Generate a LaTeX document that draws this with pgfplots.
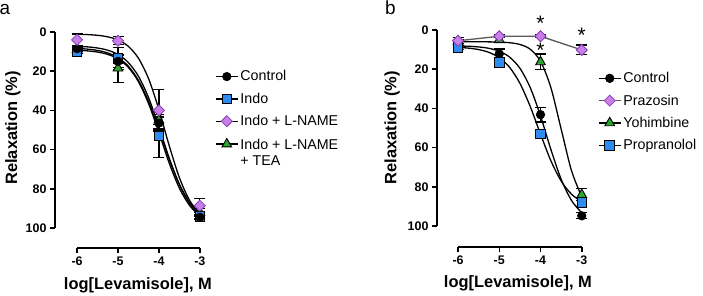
\documentclass[border=0pt]{standalone}
\usepackage{pgfplots}
\pgfplotsset{compat=1.18}
\usepackage{fontspec}
\setmainfont{Liberation Sans}

\definecolor{indoblue}{HTML}{2E8BF0}
\definecolor{lname}{HTML}{C97FEA}
\definecolor{lnameedge}{HTML}{8A3FB0}
\definecolor{teagreen}{HTML}{2BA82B}
\definecolor{prazline}{HTML}{5A5A5A}

\pgfplotsset{
  ctrl/.style={mark=*, mark size=4.3bp, mark options={fill=black, draw=black, solid, line width=0.6bp}},
  indo/.style={mark=square*, mark size=4.8bp, mark options={fill=indoblue, draw=black, solid, line width=0.9bp}},
  lnm/.style={mark=square*, mark size=3.9bp, mark options={rotate=45, fill=lname, draw=lnameedge, solid, line width=0.8bp}},
  tea/.style={mark=triangle*, mark size=5.6bp, mark options={fill=teagreen, draw=black, solid, line width=0.9bp}},
  fit/.style={black, line width=1.3bp, smooth, forget plot, no marks},
  ebars/.style={only marks, forget plot,
    error bars/.cd, y dir=both, y explicit,
    error bar style={line width=1.2bp, black, solid},
    error mark options={rotate=90, line width=1.2bp, black, mark size=5.5bp, solid},
    /pgfplots/.cd},
  resp/.style={
    scale only axis, width=153bp, height=221.9bp,
    xmin=-6.54, xmax=-2.8, ymin=-3, ymax=110.2,
    y dir=reverse, clip=false,
    axis line style={draw=none},
    xtick={-6,-5,-4,-3}, xticklabels={-6,-5,-4,-3},
    ytick={0,20,40,60,80,100}, yticklabels={0,20,40,60,80,100},
    xtick pos=left, ytick pos=left,
    tick align=outside, major tick length=5bp,
    tick style={line width=1.5bp, black},
    ticklabel style={font=\fontsize{12.5}{14}\selectfont\bfseries},
    label style={font=\fontsize{16.5}{18}\selectfont\bfseries},
    xlabel={log[Levamisole], M},
    ylabel={Relaxation (\%)},
    legend cell align=left,
    legend image code/.code={\draw[mark repeat=2,mark phase=2,##1] plot coordinates {(0bp,0bp) (11bp,0bp) (22bp,0bp)};},
    legend style={draw=none, fill=none, anchor=north west, row sep=6.5bp,
      font=\fontsize{14.3}{16.5}\selectfont},
  }
}

\begin{document}
\begin{tikzpicture}
\useasboundingbox (0,0) rectangle (703bp,296bp);

\node[anchor=base west, inner sep=0pt, font=\fontsize{19}{20}\selectfont] at (-0.5bp,281bp) {a};
\node[anchor=base west, inner sep=0pt, font=\fontsize{19}{20}\selectfont] at (385bp,281bp) {b};

% ---------------- panel a ----------------
\begin{axis}[resp, at={(55bp,48bp)}, anchor=south west,
  xlabel style={at={(axis description cs:0.542,-0.167)}, anchor=center},
  ylabel style={at={(axis description cs:-0.275,0.541)}, anchor=center},
  legend style={at={(1.026,0.818)}}]

% fitted concentration-response curves
\addplot[fit] coordinates {(-6,7.30) (-5.75,7.59) (-5.5,8.17) (-5.25,9.30) (-5,11.48) (-4.75,15.52) (-4.5,22.58) (-4.25,33.65) (-4,48.39) (-3.75,64.23) (-3.5,77.83) (-3.25,87.38) (-3,93.21)};
\addplot[fit] coordinates {(-6,9.31) (-5.75,9.63) (-5.5,10.24) (-5.25,11.44) (-5,13.74) (-4.75,17.99) (-4.5,25.34) (-4.25,36.66) (-4,51.37) (-3.75,66.78) (-3.5,79.65) (-3.25,88.51) (-3,93.86)};
\addplot[fit] coordinates {(-6,1.16) (-5.75,1.33) (-5.5,1.70) (-5.25,2.48) (-5,4.07) (-4.75,7.27) (-4.5,13.38) (-4.25,23.97) (-4,39.57) (-3.75,57.86) (-3.5,74.28) (-3.25,85.91) (-3,92.79)};
\addplot[fit] coordinates {(-6,8.38) (-5.75,8.74) (-5.5,9.42) (-5.25,10.71) (-5,13.11) (-4.75,17.42) (-4.5,24.67) (-4.25,35.63) (-4,49.74) (-3.75,64.75) (-3.5,77.70) (-3.25,86.97) (-3,92.78)};

% mean +/- SEM
\addplot[tea, ebars] table[x=x, y=y, y error=e] {
x y e
-6 9.0 1.0
-5 18.5 7.2
-4 45.0 2.0
-3 92.0 2.0
};
\addplot[indo, ebars] table[x=x, y=y, y error=e] {
x y e
-6 10.0 1.0
-5 13.5 5.5
-4 53.0 11.0
-3 94.0 1.0
};
\addplot[ctrl, ebars] table[x=x, y=y, y error=e] {
x y e
-6 8.5 1.0
-5 15.0 3.0
-4 46.5 3.0
-3 94.5 1.0
};
\addplot[lnm, ebars] table[x=x, y=y, y error=e] {
x y e
-6 4.0 3.0
-5 4.5 2.0
-4 40.0 10.5
-3 88.6 3.5
};

\addlegendimage{black, line width=1.3bp, ctrl}
\addlegendentry{Control}
\addlegendimage{black, line width=1.3bp, indo}
\addlegendentry{Indo}
\addlegendimage{black, line width=1.3bp, lnm}
\addlegendentry{Indo + L-NAME}
\addlegendimage{black, line width=1.3bp, tea}
\addlegendentry{\begin{tabular}[t]{@{}l@{}}Indo + L-NAME\\+ TEA\end{tabular}}

\draw[line width=1.5bp] (axis cs:-6.54,0) -- (axis cs:-6.54,100);
\draw[line width=1.5bp] (axis cs:-6,110.2) -- (axis cs:-3,110.2);
\end{axis}

% ---------------- panel b ----------------
\begin{axis}[resp, at={(437bp,49bp)}, anchor=south west,
  xmin=-6.51, ymax=110.7, height=222.9bp,
  xlabel style={at={(axis description cs:0.529,-0.162)}, anchor=center},
  ylabel style={at={(axis description cs:-0.294,0.536)}, anchor=center},
  legend style={at={(1.032,0.802)}}]

\addplot[fit] coordinates {(-6,8.15) (-5.75,8.31) (-5.5,8.65) (-5.25,9.37) (-5,10.85) (-4.75,13.82) (-4.5,19.50) (-4.25,29.35) (-4,43.84) (-3.75,60.84) (-3.5,76.10) (-3.25,86.90) (-3,93.30)};
\addplot[fit] coordinates {(-6,6.00) (-5.75,6.01) (-5.5,6.02) (-5.25,6.06) (-5,6.18) (-4.75,6.50) (-4.5,7.39) (-4.25,9.80) (-4,15.96) (-3.75,29.30) (-3.5,50.50) (-3.25,71.68) (-3,85.04)};
\addplot[fit] coordinates {(-6,8.88) (-5.75,9.25) (-5.5,9.99) (-5.25,11.43) (-5,14.14) (-4.75,19.04) (-4.5,27.18) (-4.25,39.00) (-4,53.13) (-3.75,66.63) (-3.5,77.01) (-3.25,83.75) (-3,87.65)};

% prazosin: points joined directly
\addplot[prazline, line width=1.3bp, forget plot] coordinates {(-6,5.5) (-5,3.2) (-4,3.2) (-3,10.2)};

\addplot[ctrl, ebars] table[x=x, y=y, y error=e] {
x y e
-6 8.5 1.5
-5 12.2 2.5
-4 43.2 3.7
-3 94.8 1.5
};
\addplot[tea, ebars] table[x=x, y=y, y error=e] {
x y e
-6 6.0 1.0
-5 5.0 1.5
-4 16.3 4.0
-3 84.0 3.0
};
\addplot[indo, ebars] table[x=x, y=y, y error=e] {
x y e
-6 9.0 1.0
-5 16.7 1.5
-4 53.0 1.5
-3 88.0 2.5
};
\addplot[lnm, ebars] table[x=x, y=y, y error=e] {
x y e
-6 5.5 1.5
-5 3.2 0.8
-4 3.2 0.8
-3 10.2 2.5
};

% significance marks
\node[anchor=base, inner sep=0pt, font=\fontsize{21}{21}\selectfont] at (axis cs:-4,0.5) {*};
\node[anchor=base, inner sep=0pt, font=\fontsize{21}{21}\selectfont] at (axis cs:-4,14.0) {*};
\node[anchor=base, inner sep=0pt, font=\fontsize{21}{21}\selectfont] at (axis cs:-3,6.4) {*};

\addlegendimage{black, line width=1.3bp, ctrl}
\addlegendentry{Control}
\addlegendimage{prazline, line width=1.3bp, lnm}
\addlegendentry{Prazosin}
\addlegendimage{black, line width=1.3bp, tea}
\addlegendentry{Yohimbine}
\addlegendimage{black, line width=1.3bp, indo}
\addlegendentry{Propranolol}

\draw[line width=1.5bp] (axis cs:-6.51,0) -- (axis cs:-6.51,100);
\draw[line width=1.5bp] (axis cs:-6,110.7) -- (axis cs:-3,110.7);
\end{axis}
\end{tikzpicture}
\end{document}
